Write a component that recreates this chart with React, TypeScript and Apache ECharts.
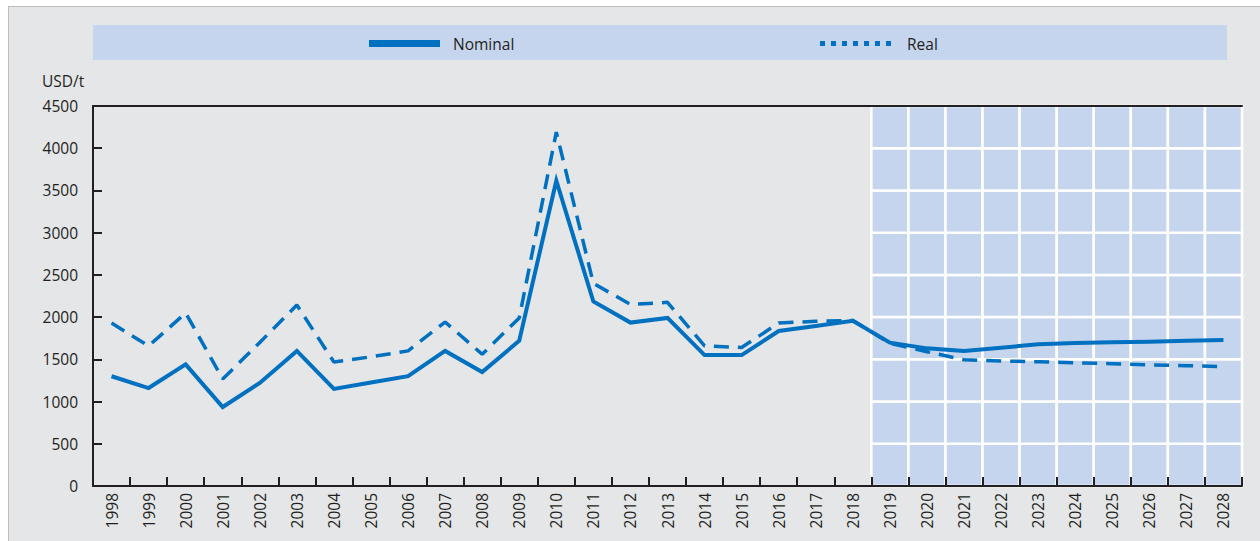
import React, { useEffect, useRef } from "react";
import * as echarts from "echarts";

const categories = [
  "1998", "1999", "2000", "2001", "2002", "2003", "2004", "2005", "2006", "2007",
  "2008", "2009", "2010", "2011", "2012", "2013", "2014", "2015", "2016", "2017",
  "2018", "2019", "2020", "2021", "2022", "2023", "2024", "2025", "2026", "2027", "2028",
];
const nominal = [
  1300, 1160, 1440, 935, 1220, 1600, 1150, 1225, 1300, 1600,
  1350, 1720, 3615, 2185, 1935, 1990, 1550, 1550, 1835, 1895,
  1957, 1697, 1630, 1600, 1638, 1678, 1693, 1701, 1709, 1719, 1729,
];
const real = [
  1930, 1658, 2049, 1267, 1700, 2143, 1468, 1530, 1600, 1942,
  1560, 1990, 4190, 2400, 2150, 2175, 1660, 1640, 1930, 1950,
  1960, 1690, 1590, 1495, 1480, 1472, 1460, 1448, 1433, 1425, 1413,
];
const forecastYears = ["2019", "2020", "2021", "2022", "2023", "2024", "2025", "2026", "2027", "2028"];
const seriesNames = ["Nominal", "Real"];
const unitLabel = "USD/t";
const yMin = 0;
const yMax = 4500;
const yStep = 500;

const BLUE = "#0070c0";
const SHADE = "#c6d5ee";
const INK = "#231f20";
const FONT = "'Open Sans', 'Noto Sans', sans-serif";

export default function App() {
  const ref = useRef<HTMLDivElement>(null);

  useEffect(() => {
    if (!ref.current) return;
    const chart = echarts.init(ref.current, null, { renderer: "svg" });

    const option: any = {
      animation: false,
      textStyle: { fontFamily: FONT },
      grid: { left: 93, right: 18, top: 106, bottom: 55, containLabel: false },
      xAxis: [
        {
          type: "category",
          data: categories,
          boundaryGap: true,
          z: 5,
          axisLine: { show: true, lineStyle: { color: INK, width: 2 } },
          axisTick: { show: true, inside: true, length: 9, interval: 0, lineStyle: { color: INK, width: 2 } },
          axisLabel: { interval: 0, rotate: 90, margin: 7, color: INK, fontSize: 15.5, fontFamily: FONT },
          splitLine: { show: false },
        },
        {
          type: "category",
          data: categories,
          position: "top",
          z: 5,
          axisLine: { show: true, lineStyle: { color: INK, width: 2 } },
          axisTick: { show: false },
          axisLabel: { show: false },
          splitLine: { show: false },
        },
      ],
      yAxis: {
        type: "value",
        min: yMin,
        max: yMax,
        interval: yStep,
        z: 5,
        axisLine: { show: true, lineStyle: { color: INK, width: 2 } },
        axisTick: { show: true, inside: true, length: 9, lineStyle: { color: INK, width: 2 } },
        axisLabel: {
          margin: 15,
          color: INK,
          fontSize: 15.5,
          fontFamily: FONT,
          formatter: (v: number) => String(v),
        },
        splitLine: { show: false },
      },
      graphic: [
        { type: "rect", shape: { x: 93, y: 25, width: 1134, height: 35 }, style: { fill: SHADE }, z: 0 },
        { type: "rect", shape: { x: 369, y: 40, width: 71, height: 7 }, style: { fill: BLUE }, z: 1 },
        {
          type: "text", x: 453, y: 43.5, z: 1,
          style: { text: seriesNames[0], fill: INK, font: `15.5px ${FONT}`, textVerticalAlign: "middle" },
        },
        {
          type: "line", shape: { x1: 820, y1: 43.5, x2: 893, y2: 43.5 }, z: 1,
          style: { stroke: BLUE, lineWidth: 5, lineDash: [5, 6] },
        },
        {
          type: "text", x: 907, y: 43.5, z: 1,
          style: { text: seriesNames[1], fill: INK, font: `15.5px ${FONT}`, textVerticalAlign: "middle" },
        },
        {
          type: "text", x: 42, y: 81, z: 1,
          style: { text: unitLabel, fill: INK, font: `15.5px ${FONT}`, textVerticalAlign: "middle" },
        },
      ],
      series: [
        {
          type: "custom",
          name: "Projection",
          z: 1,
          silent: true,
          data: forecastYears.map((y) => [categories.indexOf(y)]),
          renderItem: (params: any, api: any) => {
            const idx = api.value(0);
            const w = api.size([1, 0])[0];
            const cx = api.coord([idx, 0])[0];
            const children: any[] = [];
            for (let v = yMin; v < yMax; v += yStep) {
              const yTop = api.coord([idx, v + yStep])[1];
              const yBot = api.coord([idx, v])[1];
              children.push({
                type: "rect",
                shape: { x: cx - w / 2, y: yTop, width: w, height: yBot - yTop },
                style: { fill: SHADE, stroke: "#ffffff", lineWidth: 2.5 },
              });
            }
            return { type: "group", children };
          },
        },
        {
          type: "line",
          name: seriesNames[0],
          data: nominal,
          z: 3,
          symbol: "none",
          lineStyle: { color: BLUE, width: 4, join: "miter" },
          itemStyle: { color: BLUE },
        },
        {
          type: "line",
          name: seriesNames[1],
          data: real,
          z: 3,
          symbol: "none",
          lineStyle: { color: BLUE, width: 3.5, type: [15, 9] },
          itemStyle: { color: BLUE },
        },
      ],
    };

    chart.setOption(option);
    return () => chart.dispose();
  }, []);

  return (
    <div style={{ position: "fixed", left: 0, top: 0, width: 1260, height: 541, background: "#ffffff" }}>
      <div
        style={{
          position: "absolute",
          left: 8,
          top: 6,
          right: 0,
          bottom: 0,
          background: "#e5e6e8",
          borderTop: "1px solid #bdbdbd",
          borderLeft: "1px solid #bdbdbd",
        }}
      />
      <div ref={ref} style={{ position: "absolute", left: 0, top: 0, width: 1260, height: 541 }} />
    </div>
  );
}
